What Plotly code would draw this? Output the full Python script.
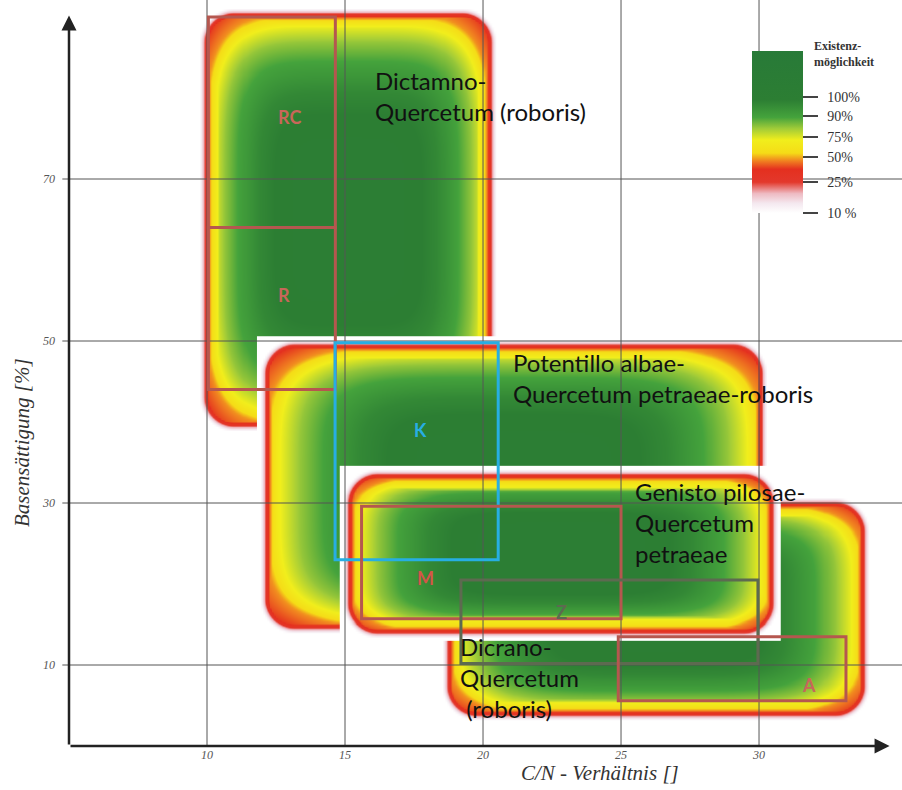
import numpy as np
import plotly.graph_objects as go

# ---------------- data ----------------
x_ticks = [10, 15, 20, 25, 30]
y_ticks = [10, 30, 50, 70]
x_title = "C/N - Verhältnis []"
y_title = "Basensättigung [%]"

# plant communities: C/N range and base-saturation range (drawing order bottom -> top)
community_names = [
    "Dictamno-<br>Quercetum (roboris)",
    "Potentillo albae-<br>Quercetum petraeae-roboris",
    "Dicrano-<br>Quercetum<br> (roboris)",
    "Genisto pilosae-<br>Quercetum<br>petraeae",
]
community_cn_min = [9.9, 12.1, 18.7, 15.1]
community_cn_max = [20.3, 30.1, 33.8, 30.5]
community_bs_min = [39.5, 14.5, 3.8, 14.0]
community_bs_max = [90.5, 49.6, 30.1, 33.6]
community_label_x = [16.0, 21.0, 19.1, 25.45]
community_label_y = [80.3, 45.4, 8.5, 27.65]

# site boxes
site_names = ["RC", "R", "K", "M", "Z", "A"]
site_cn_min = [10.05, 10.05, 14.64, 15.6, 19.2, 24.9]
site_cn_max = [14.65, 14.65, 20.55, 25.0, 29.96, 33.15]
site_bs_min = [64.0, 44.0, 23.0, 15.7, 10.2, 5.6]
site_bs_max = [90.0, 64.0, 49.8, 29.6, 20.5, 13.5]
site_label_x = [13.0, 12.8, 17.75, 17.9, 22.85, 31.8]
site_label_y = [77.7, 55.7, 39.0, 20.7, 16.6, 7.5]
site_colors = ["#b5574f", "#b5574f", "#27aee3", "#b5574f", "#5d6a50", "#b5574f"]
site_text_colors = ["#c8675a", "#c8675a", "#27aee3", "#d35548", "#5d6a50", "#c8675a"]

# legend (Existenzmöglichkeit)
legend_labels = ["100%", "90%", "75%", "50%", "25%", "10 %"]
legend_pos = [0.716, 0.599, 0.469, 0.346, 0.191, 0.0]

# ---------------- styling ----------------
colorscale = [
    [0.00, "#ffffff"],
    [0.06, "#f4e8ef"],
    [0.12, "#eebac2"],
    [0.19, "#e3382c"],
    [0.27, "#e4301f"],
    [0.32, "#f07f20"],
    [0.37, "#f5dc17"],
    [0.45, "#f1ee1c"],
    [0.52, "#a2cc38"],
    [0.59, "#45a33c"],
    [0.70, "#2c7e33"],
    [1.00, "#287a38"],
]
PX_X = 27.6   # px per C/N unit
PX_Y = 8.1    # px per % unit
EDGE_D = [-5, -1, 1, 3, 6, 10, 14, 24]
EDGE_P = [0.0, 0.12, 0.21, 0.27, 0.35, 0.41, 0.46, 0.80]
CORE_S = [-0.2, 0.0, 0.06, 0.14, 0.25, 0.38, 0.60]
CORE_P = [0.19, 0.33, 0.45, 0.53, 0.60, 0.67, 0.73]
RADIUS = 30
SUPER_N = 5
MARGIN_PX = 7

XR = [5, 35.18]
YR = [0, 92.1]

fig = go.Figure()

for i in range(len(community_names)):
    x0, x1 = community_cn_min[i], community_cn_max[i]
    y0, y1 = community_bs_min[i], community_bs_max[i]
    mx, my = MARGIN_PX / PX_X, MARGIN_PX / PX_Y
    xs = np.linspace(x0 - mx, x1 + mx, int((x1 - x0 + 2 * mx) * PX_X / 2.0))
    ys = np.linspace(y0 - my, y1 + my, int((y1 - y0 + 2 * my) * PX_Y / 2.0))
    X, Y = np.meshgrid((xs - (x0 + x1) / 2) * PX_X, (ys - (y0 + y1) / 2) * PX_Y)
    hx, hy = (x1 - x0) / 2 * PX_X, (y1 - y0) / 2 * PX_Y
    qx = np.abs(X) - (hx - RADIUS)
    qy = np.abs(Y) - (hy - RADIUS)
    d = np.sqrt(np.maximum(qx, 0) ** 2 + np.maximum(qy, 0) ** 2) + np.minimum(np.maximum(qx, qy), 0) - RADIUS
    p_edge = np.interp(-d, EDGE_D, EDGE_P)
    s = (np.abs(X / hx) ** SUPER_N + np.abs(Y / hy) ** SUPER_N) ** (1.0 / SUPER_N)
    p_core = np.interp(1 - s, CORE_S, CORE_P)
    z = np.minimum(p_edge, p_core)
    z[p_edge <= 0.0] = 0.0
    cb = None
    if i == 0:
        cb = dict(
            x=(752 - 69) / 833, xanchor="left", xpad=0,
            y=(746 - 51) / 746, yanchor="top", ypad=0,
            len=162, lenmode="pixels", thickness=51, thicknessmode="pixels",
            outlinewidth=0,
            tickvals=legend_pos, ticktext=["\u00a0\u00a0" + t for t in legend_labels],
            ticks="outside", ticklen=15, tickwidth=2, tickcolor="#444",
            tickfont=dict(family="Liberation Serif", size=14, color="#333"),
        )
    fig.add_trace(go.Heatmap(
        x=xs, y=ys, z=z, zmin=0, zmax=1, colorscale=colorscale,
        zsmooth="best", showscale=(i == 0), colorbar=cb, hoverinfo="skip",
    ))

shapes = []
# grid lines above the colour fields
for xv in x_ticks:
    shapes.append(dict(type="line", xref="x", yref="paper", x0=xv, x1=xv, y0=0, y1=1,
                       line=dict(color="#555555", width=1), layer="above"))
for yv in y_ticks:
    shapes.append(dict(type="line", xref="paper", yref="y", x0=-0.008, x1=1, y0=yv, y1=yv,
                       line=dict(color="#555555", width=1), layer="above"))
# site boxes
for i in range(len(site_names)):
    shapes.append(dict(type="rect", xref="x", yref="y",
                       x0=site_cn_min[i], x1=site_cn_max[i], y0=site_bs_min[i], y1=site_bs_max[i],
                       line=dict(color=site_colors[i], width=3), fillcolor="rgba(0,0,0,0)", layer="above"))

annotations = []
for i in range(len(site_names)):
    annotations.append(dict(x=site_label_x[i], y=site_label_y[i], text="<b>%s</b>" % site_names[i],
                            showarrow=False, font=dict(family="Lato", size=18, color=site_text_colors[i])))
for i in range(len(community_names)):
    annotations.append(dict(x=community_label_x[i], y=community_label_y[i], text=community_names[i],
                            xanchor="left", yanchor="middle", align="left", showarrow=False,
                            font=dict(family="Lato", size=24, color="#111111")))
# axes with arrow heads
annotations.append(dict(x=XR[1] - 0.45, y=0, ax=XR[0], ay=0, xref="x", yref="y", axref="x", ayref="y",
                        text="", showarrow=True, arrowhead=2, arrowsize=1.2, arrowwidth=2.5, arrowcolor="#222"))
annotations.append(dict(x=XR[0], y=90.2, ax=XR[0], ay=0, xref="x", yref="y", axref="x", ayref="y",
                        text="", showarrow=True, arrowhead=2, arrowsize=1.2, arrowwidth=2.5, arrowcolor="#222"))
# axis titles
annotations.append(dict(x=(600 - 69) / 833, y=(746 - 773) / 746, xref="paper", yref="paper",
                        text=x_title, showarrow=False, xanchor="center", yanchor="middle",
                        font=dict(family="Liberation Serif", size=21, color="#333", style="italic")))
annotations.append(dict(x=(22 - 69) / 833, y=(746 - 443) / 746, xref="paper", yref="paper",
                        text=y_title, showarrow=False, textangle=-90, xanchor="center", yanchor="middle",
                        font=dict(family="Liberation Serif", size=21, color="#333", style="italic")))
# legend title
annotations.append(dict(x=(812 - 69) / 833, y=(746 - 37) / 746, xref="paper", yref="paper",
                        text="<b>Existenz-<br>möglichkeit</b>", showarrow=False, xanchor="left", yanchor="top",
                        align="left", font=dict(family="Liberation Serif", size=12, color="#333")))

fig.update_layout(
    width=902, height=790,
    margin=dict(l=69, r=0, t=0, b=44),
    paper_bgcolor="white", plot_bgcolor="white",
    showlegend=False,
    shapes=shapes, annotations=annotations,
    xaxis=dict(range=XR, tickvals=x_ticks, showgrid=False, zeroline=False, showline=False,
               ticks="", ticklabelstandoff=0,
               tickfont=dict(family="Liberation Serif", size=12, color="#555", style="italic")),
    yaxis=dict(range=YR, tickvals=y_ticks, showgrid=False, zeroline=False, showline=False,
               ticks="", ticklabelstandoff=13,
               tickfont=dict(family="Liberation Serif", size=12, color="#555", style="italic")),
)

fig.write_html("out.html", config={"displayModeBar": False},
               post_script="document.body.style.margin='0';")
